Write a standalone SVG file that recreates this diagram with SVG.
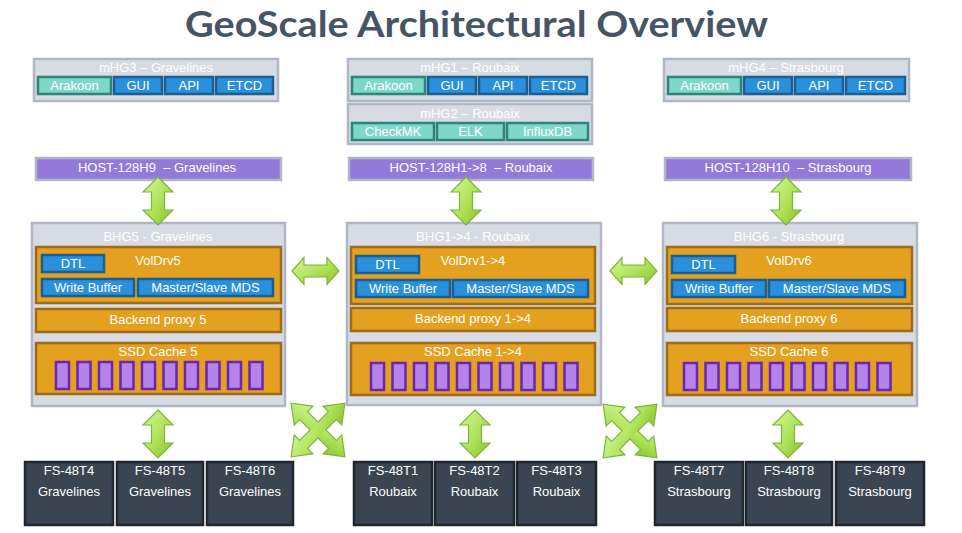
<svg xmlns="http://www.w3.org/2000/svg" width="962" height="533" viewBox="0 0 962 533">
<style>
text{font-family:"Liberation Sans",Arial,sans-serif;font-size:13px;fill:#ffffff;text-anchor:middle}
.title{font-family:Lato,"Open Sans",sans-serif;font-weight:bold;font-size:36px;fill:#475466;text-anchor:start}
.grey{fill:#d7dbe3;stroke:#afb7c5;stroke-width:2.5}
.teal{fill:#7fd7ca;stroke:#2b8678;stroke-width:2.5}
.blue{fill:#2a90dc;stroke:#1a5e94;stroke-width:2.5}
.host{fill:#9379d9;stroke:#afb7c5;stroke-width:2.5}
.orange{fill:#e3a11f;stroke:#9d6b1a;stroke-width:2.5}
.ssd{fill:#b684e8;stroke:#6b25b2;stroke-width:2.5}
.fs{fill:#3b4552;stroke:#1f262d;stroke-width:2.5}
.arrow{fill:url(#g);stroke:#7fb43a;stroke-width:1.2;stroke-linejoin:miter}
.xs{fill:none;stroke:#7fb43a;stroke-width:2.4}
.xf{fill:url(#g);stroke:none}
</style>
<defs>
<linearGradient id="g" x1="0" y1="0" x2="1" y2="1">
<stop offset="0" stop-color="#d3f59a"/>
<stop offset="0.5" stop-color="#b2e45e"/>
<stop offset="1" stop-color="#86c226"/>
</linearGradient>
<path id="va" d="M0,0 L15,15 L6.5,15 L6.5,33 L15,33 L0,48 L-15,33 L-6.5,33 L-6.5,15 L-15,15 Z"/>
<path id="ha" d="M0,0 L12,-13.5 L12,-6 L35,-6 L35,-13.5 L47,0 L35,13.5 L35,6 L12,6 L12,13.5 Z"/>
<path id="arm" d="M-37,0 L-21,-12 L-21,-5 L21,-5 L21,-12 L37,0 L21,12 L21,5 L-21,5 L-21,12 Z"/>
</defs>
<rect width="962" height="533" fill="#ffffff"/>
<text class="title" x="185" y="37" textLength="583" lengthAdjust="spacingAndGlyphs">GeoScale Architectural Overview</text>

<g id="mHG3">
<rect class="grey" x="34" y="59" width="244" height="42"/>
<text x="156" y="72">mHG3 – Gravelines</text>
<rect class="teal" x="38" y="77" width="73" height="17"/>
<text x="74.5" y="90">Arakoon</text>
<rect class="blue" x="114" y="77" width="48" height="17"/>
<text x="138" y="90">GUI</text>
<rect class="blue" x="165" y="77" width="48" height="17"/>
<text x="189" y="90">API</text>
<rect class="blue" x="216" y="77" width="57" height="17"/>
<text x="244.5" y="90">ETCD</text>
</g>

<g id="mHG1">
<rect class="grey" x="348" y="59" width="244" height="42"/>
<text x="470" y="72">mHG1 – Roubaix</text>
<rect class="teal" x="352" y="77" width="73" height="17"/>
<text x="388.5" y="90">Arakoon</text>
<rect class="blue" x="428" y="77" width="48" height="17"/>
<text x="452" y="90">GUI</text>
<rect class="blue" x="479" y="77" width="48" height="17"/>
<text x="503" y="90">API</text>
<rect class="blue" x="530" y="77" width="57" height="17"/>
<text x="558.5" y="90">ETCD</text>
</g>

<g id="mHG2">
<rect class="grey" x="348" y="104" width="244" height="40"/>
<text x="470" y="118">mHG2 – Roubaix</text>
<rect class="teal" x="352" y="123" width="82" height="17"/>
<text x="393" y="136">CheckMK</text>
<rect class="teal" x="437" y="123" width="67" height="17"/>
<text x="470.5" y="136">ELK</text>
<rect class="teal" x="507" y="123" width="81" height="17"/>
<text x="547.5" y="136">InfluxDB</text>
</g>

<g id="mHG4">
<rect class="grey" x="664" y="59" width="245" height="42"/>
<text x="786" y="72">mHG4 – Strasbourg</text>
<rect class="teal" x="668" y="77" width="73" height="17"/>
<text x="704.5" y="90">Arakoon</text>
<rect class="blue" x="744" y="77" width="48" height="17"/>
<text x="768" y="90">GUI</text>
<rect class="blue" x="795" y="77" width="48" height="17"/>
<text x="819" y="90">API</text>
<rect class="blue" x="846" y="77" width="59" height="17"/>
<text x="875.5" y="90">ETCD</text>
</g>

<g id="host-gravelines">
<rect class="host" x="36" y="158" width="245" height="22"/>
<text x="157" y="172" xml:space="preserve">HOST-128H9  – Gravelines</text>
</g>
<g id="host-roubaix">
<rect class="host" x="349" y="158" width="244" height="22"/>
<text x="471" y="172" xml:space="preserve">HOST-128H1-&gt;8  – Roubaix</text>
</g>
<g id="host-strasbourg">
<rect class="host" x="665" y="158" width="246" height="22"/>
<text x="788" y="172" xml:space="preserve">HOST-128H10  – Strasbourg</text>
</g>

<g id="BHG5">
<rect class="grey" x="32" y="223" width="253" height="183"/>
<text x="158" y="241">BHG5 - Gravelines</text>
<rect class="orange" x="36" y="247" width="245" height="56"/>
<text x="158" y="265">VolDrv5</text>
<rect class="blue" x="42" y="255" width="62" height="17"/>
<text x="73" y="268">DTL</text>
<rect class="blue" x="42" y="279" width="92" height="17"/>
<text x="88" y="292">Write Buffer</text>
<rect class="blue" x="138" y="279" width="135" height="17"/>
<text x="205.5" y="292">Master/Slave MDS</text>
<rect class="orange" x="36" y="309" width="245" height="23"/>
<text x="158" y="324">Backend proxy 5</text>
<rect class="orange" x="36" y="343" width="245" height="51"/>
<text x="158" y="356">SSD Cache 5</text>
<rect class="ssd" x="56" y="362" width="13" height="27"/>
<rect class="ssd" x="77.5" y="362" width="13" height="27"/>
<rect class="ssd" x="99" y="362" width="13" height="27"/>
<rect class="ssd" x="120.5" y="362" width="13" height="27"/>
<rect class="ssd" x="142" y="362" width="13" height="27"/>
<rect class="ssd" x="163.5" y="362" width="13" height="27"/>
<rect class="ssd" x="185" y="362" width="13" height="27"/>
<rect class="ssd" x="206.5" y="362" width="13" height="27"/>
<rect class="ssd" x="228" y="362" width="13" height="27"/>
<rect class="ssd" x="249.5" y="362" width="13" height="27"/>
</g>

<g id="BHG1-4">
<rect class="grey" x="347" y="223" width="254" height="182"/>
<text x="473" y="241">BHG1-&gt;4 - Roubaix</text>
<rect class="orange" x="351" y="247" width="244" height="57"/>
<text x="473" y="265">VolDrv1-&gt;4</text>
<rect class="blue" x="356" y="256" width="63" height="17"/>
<text x="387.5" y="269">DTL</text>
<rect class="blue" x="356" y="280" width="94" height="17"/>
<text x="403" y="293">Write Buffer</text>
<rect class="blue" x="453" y="280" width="135" height="17"/>
<text x="520.5" y="293">Master/Slave MDS</text>
<rect class="orange" x="351" y="308" width="244" height="23"/>
<text x="473" y="323">Backend proxy 1-&gt;4</text>
<rect class="orange" x="351" y="343" width="244" height="52"/>
<text x="473" y="356">SSD Cache 1-&gt;4</text>
<rect class="ssd" x="371" y="363" width="13" height="27"/>
<rect class="ssd" x="392.5" y="363" width="13" height="27"/>
<rect class="ssd" x="414" y="363" width="13" height="27"/>
<rect class="ssd" x="435.5" y="363" width="13" height="27"/>
<rect class="ssd" x="457" y="363" width="13" height="27"/>
<rect class="ssd" x="478.5" y="363" width="13" height="27"/>
<rect class="ssd" x="500" y="363" width="13" height="27"/>
<rect class="ssd" x="521.5" y="363" width="13" height="27"/>
<rect class="ssd" x="543" y="363" width="13" height="27"/>
<rect class="ssd" x="564.5" y="363" width="13" height="27"/>
</g>

<g id="BHG6">
<rect class="grey" x="663" y="223" width="254" height="183"/>
<text x="789" y="241">BHG6 - Strasbourg</text>
<rect class="orange" x="667" y="247" width="245" height="57"/>
<text x="789" y="265">VolDrv6</text>
<rect class="blue" x="672" y="256" width="63" height="17"/>
<text x="703.5" y="269">DTL</text>
<rect class="blue" x="672" y="280" width="94" height="17"/>
<text x="719" y="293">Write Buffer</text>
<rect class="blue" x="769" y="280" width="136" height="17"/>
<text x="837" y="293">Master/Slave MDS</text>
<rect class="orange" x="667" y="308" width="245" height="23"/>
<text x="789" y="323">Backend proxy 6</text>
<rect class="orange" x="667" y="343" width="245" height="52"/>
<text x="789" y="356">SSD Cache 6</text>
<rect class="ssd" x="684" y="363" width="13" height="27"/>
<rect class="ssd" x="705.5" y="363" width="13" height="27"/>
<rect class="ssd" x="727" y="363" width="13" height="27"/>
<rect class="ssd" x="748.5" y="363" width="13" height="27"/>
<rect class="ssd" x="770" y="363" width="13" height="27"/>
<rect class="ssd" x="791.5" y="363" width="13" height="27"/>
<rect class="ssd" x="813" y="363" width="13" height="27"/>
<rect class="ssd" x="834.5" y="363" width="13" height="27"/>
<rect class="ssd" x="856" y="363" width="13" height="27"/>
<rect class="ssd" x="877.5" y="363" width="13" height="27"/>
</g>

<g id="FS-48T4"><rect class="fs" x="25" y="462" width="88" height="63"/><text x="69" y="475">FS-48T4</text><text x="69" y="496">Gravelines</text></g>
<g id="FS-48T5"><rect class="fs" x="117" y="462" width="86" height="63"/><text x="160" y="475">FS-48T5</text><text x="160" y="496">Gravelines</text></g>
<g id="FS-48T6"><rect class="fs" x="207" y="462" width="86" height="63"/><text x="250" y="475">FS-48T6</text><text x="250" y="496">Gravelines</text></g>
<g id="FS-48T1"><rect class="fs" x="354" y="462" width="78" height="63"/><text x="393" y="475">FS-48T1</text><text x="393" y="496">Roubaix</text></g>
<g id="FS-48T2"><rect class="fs" x="435" y="462" width="79" height="63"/><text x="474.5" y="475">FS-48T2</text><text x="474.5" y="496">Roubaix</text></g>
<g id="FS-48T3"><rect class="fs" x="517" y="462" width="79" height="63"/><text x="556.5" y="475">FS-48T3</text><text x="556.5" y="496">Roubaix</text></g>
<g id="FS-48T7"><rect class="fs" x="655" y="462" width="88" height="63"/><text x="699" y="475">FS-48T7</text><text x="699" y="496">Strasbourg</text></g>
<g id="FS-48T8"><rect class="fs" x="746" y="462" width="86" height="63"/><text x="789" y="475">FS-48T8</text><text x="789" y="496">Strasbourg</text></g>
<g id="FS-48T9"><rect class="fs" x="836" y="462" width="88" height="63"/><text x="880" y="475">FS-48T9</text><text x="880" y="496">Strasbourg</text></g>

<g id="connectors">
<use href="#va" class="arrow" transform="translate(158,177)"/>
<use href="#va" class="arrow" transform="translate(466,177)"/>
<use href="#va" class="arrow" transform="translate(786,177)"/>
<use href="#va" class="arrow" transform="translate(158,410)"/>
<use href="#va" class="arrow" transform="translate(475,410)"/>
<use href="#va" class="arrow" transform="translate(788,410)"/>
<use href="#ha" class="arrow" transform="translate(292,271)"/>
<use href="#ha" class="arrow" transform="translate(610,271)"/>
<g transform="translate(318,430)">
<use href="#arm" class="xs" transform="rotate(45)"/>
<use href="#arm" class="xs" transform="rotate(-45)"/>
<use href="#arm" class="xf" transform="rotate(45)"/>
<use href="#arm" class="xf" transform="rotate(-45)"/>
</g>
<g transform="translate(630,431)">
<use href="#arm" class="xs" transform="rotate(45)"/>
<use href="#arm" class="xs" transform="rotate(-45)"/>
<use href="#arm" class="xf" transform="rotate(45)"/>
<use href="#arm" class="xf" transform="rotate(-45)"/>
</g>
</g>
</svg>
